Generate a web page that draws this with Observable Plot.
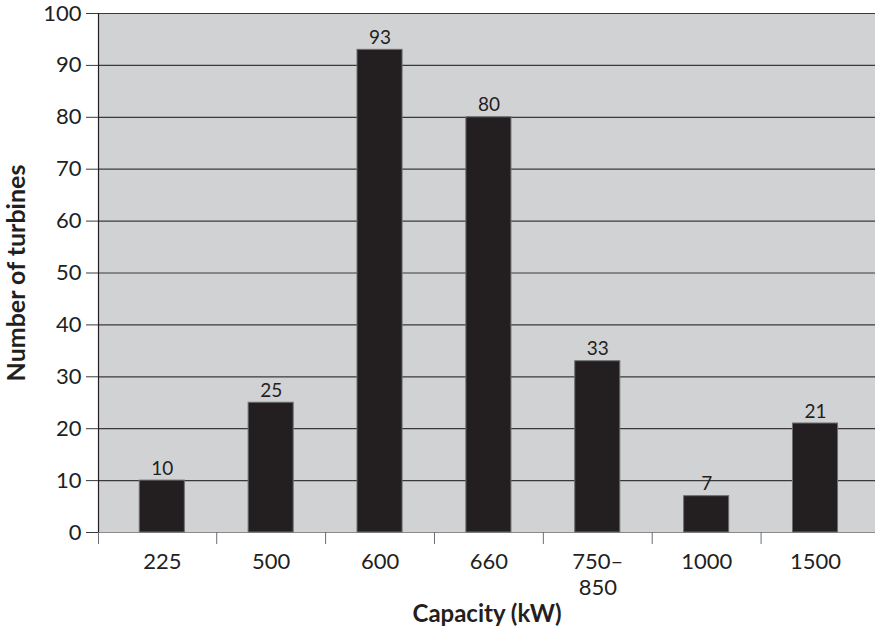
<!DOCTYPE html>
<html>
<head>
<meta charset="utf-8">
<script src="https://cdn.jsdelivr.net/npm/d3@7"></script>
<script src="https://cdn.jsdelivr.net/npm/@observablehq/plot@0.6"></script>
<style>
  html, body { margin: 0; padding: 0; background: #fff; }
  #chart svg { display: block; }
</style>
</head>
<body>
<div id="chart"></div>
<script>
const categories = ["225", "500", "600", "660", "750–\n850", "1000", "1500"];
const turbines = [10, 25, 93, 80, 33, 7, 21];
const yTicks = [0, 10, 20, 30, 40, 50, 60, 70, 80, 90, 100];
const xTitle = "Capacity (kW)";
const yTitle = "Number of turbines";

const data = categories.map((c, i) => ({i, c, n: turbines[i]}));
const idx = categories.map((c, i) => i);
const xDomain = [-0.586, categories.length - 0.449];
const boundaries = [xDomain[0], ...idx.slice(0, -1).map(i => i + 0.5)];
const halfBar = 0.207;

const font = "Lato, 'Open Sans', sans-serif";
const ink = "#231f20";

const chart = Plot.plot({
  width: 875,
  height: 626,
  marginLeft: 98,
  marginRight: 0,
  marginTop: 13,
  marginBottom: 94,
  style: {fontFamily: font, background: "#fff", color: ink},
  x: {type: "linear", domain: xDomain, axis: null},
  y: {domain: [0, 100], axis: null},
  marks: [
    Plot.frame({fill: "#d1d2d4", stroke: null}),
    Plot.ruleY(yTicks.filter(t => t > 0), {stroke: "#3a3a3c", strokeWidth: 1.2}),
    Plot.ruleY([0], {stroke: "#8a8b8d", strokeWidth: 1.2}),
    Plot.rectY(data, {
      x1: d => d.i - halfBar,
      x2: d => d.i + halfBar,
      y: "n",
      fill: ink,
      stroke: "#6d6e71",
      strokeWidth: 1
    }),
    Plot.text(data, {
      x: "i", y: "n", text: d => String(d.n),
      lineAnchor: "bottom", dy: -6, fontSize: 19, fill: ink
    }),
    Plot.frame({anchor: "left", stroke: ink, strokeWidth: 1.2}),
    Plot.axisY({
      ticks: yTicks, tickSize: 12, tickPadding: 5, fontSize: 22,
      stroke: "#3a3a3c", label: null, color: ink
    }),
    Plot.axisX({
      ticks: boundaries, tickSize: 12, tickFormat: () => "",
      stroke: "#6d6e71", label: null
    }),
    Plot.axisX({
      ticks: idx, tickSize: 0, tickPadding: 18, fontSize: 22, lineHeight: 1.18,
      tickFormat: i => categories[i], label: null, color: ink
    }),
    Plot.text([xTitle], {
      frameAnchor: "bottom", text: d => d, dy: 89, lineAnchor: "bottom",
      fontSize: 24, fontWeight: "bold", fill: ink
    }),
    Plot.text([yTitle], {
      frameAnchor: "left", textAnchor: "middle", text: d => d, dx: -82, rotate: -90,
      fontSize: 25, fontWeight: "bold", fill: ink
    })
  ]
});
document.getElementById("chart").appendChild(chart);
</script>
</body>
</html>
